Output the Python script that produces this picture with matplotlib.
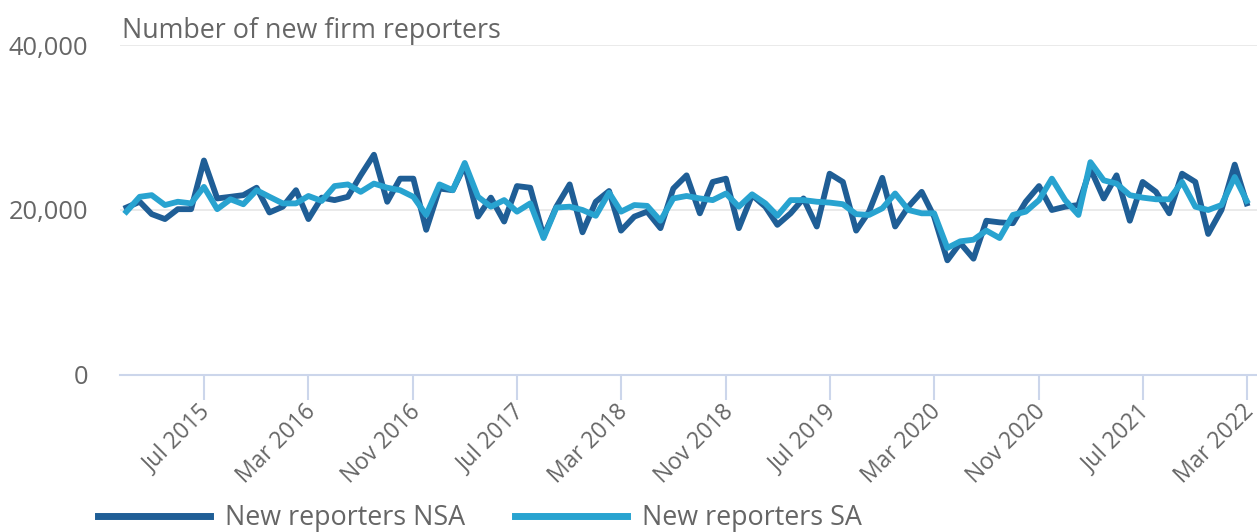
import pandas as pd
import matplotlib
matplotlib.use("Agg")
import matplotlib.pyplot as plt
import matplotlib.transforms as mtransforms

# monthly data, Jan 2015 - Mar 2022
months = pd.date_range("2015-01-01", "2022-03-01", freq="MS")

nsa = [20300, 21000, 19500, 18900, 20100, 20100, 26000, 21400, 21600, 21800,
       22700, 19700, 20400, 22400, 18900, 21500, 21200, 21600, 24200, 26700,
       21000, 23800, 23800, 17600, 22600, 22400, 25400, 19200, 21500, 18600,
       22900, 22700, 16800, 20400, 23100, 17300, 21000, 22300, 17500, 19200,
       19800, 17800, 22600, 24200, 19600, 23400, 23800, 17800, 21800, 20400,
       18200, 19600, 21400, 18000, 24400, 23400, 17500, 19800, 23900, 18000,
       20400, 22200, 19200, 13900, 16000, 14100, 18700, 18500, 18400, 21000,
       22900, 20000, 20400, 20600, 25000, 21400, 24200, 18700, 23400, 22200,
       19600, 24400, 23400, 17100, 20000, 25500, 20800]

sa = [19800, 21600, 21800, 20600, 21000, 20800, 22800, 20100, 21300, 20700,
      22400, 21600, 20800, 20800, 21700, 21100, 22900, 23100, 22200, 23200,
      22700, 22400, 21600, 19400, 23100, 22400, 25700, 21600, 20400, 21200,
      19800, 20800, 16600, 20300, 20400, 20000, 19300, 22100, 19800, 20600,
      20500, 18700, 21400, 21700, 21400, 21200, 22000, 20400, 21900, 20800,
      19300, 21200, 21200, 21000, 20900, 20700, 19500, 19400, 20200, 22000,
      20000, 19600, 19600, 15400, 16200, 16400, 17500, 16600, 19400, 19800,
      21200, 23800, 21200, 19400, 25800, 23600, 23200, 21800, 21500, 21300,
      21300, 23400, 20400, 20000, 20600, 24000, 21100]

tick_labels = ["Jul 2015", "Mar 2016", "Nov 2016", "Jul 2017", "Mar 2018", "Nov 2018",
               "Jul 2019", "Mar 2020", "Nov 2020", "Jul 2021", "Mar 2022"]
y_ticks = [0, 20000, 40000]

plt.rcParams["font.family"] = ["Open Sans", "DejaVu Sans"]
grey = "#666666"

fig = plt.figure(figsize=(12.57, 5.32), dpi=100)
ax = fig.add_axes([120 / 1257, 1 - 375 / 532, 1 - 120 / 1257, 330 / 532])

ax.plot(months, nsa, color="#1f5e96", lw=4.2, solid_joinstyle="round", label="New reporters NSA")
ax.plot(months, sa, color="#28a3d0", lw=4.2, solid_joinstyle="round", label="New reporters SA")

ax.set_ylim(0, 40000)
ax.set_xlim(months[0] - pd.Timedelta(days=15), months[-1] + pd.Timedelta(days=24))

ax.set_yticks(y_ticks)
ax.set_yticklabels([f"{v:,}" for v in y_ticks], color=grey, fontsize=18.4)
ax.tick_params(axis="y", length=0, pad=23)
for v in y_ticks[1:]:
    ax.axhline(v, color="#e6e6e6", lw=1.2, zorder=0)

tick_dates = pd.to_datetime(tick_labels, format="%b %Y")
ax.set_xticks(tick_dates)
ax.set_xticklabels(tick_labels, rotation=45, ha="right", rotation_mode="anchor",
                   color=grey, fontsize=16.5)
ax.tick_params(axis="x", length=18, width=1.5, color="#ccd6eb", pad=0)
# nudge the rotated labels a little left so the last one stays inside
shift = mtransforms.ScaledTranslation(-5 / 100, 0, fig.dpi_scale_trans)
for lbl in ax.get_xticklabels():
    lbl.set_transform(lbl.get_transform() + shift)

for s in ["top", "right", "left"]:
    ax.spines[s].set_visible(False)
ax.spines["bottom"].set_color("#ccd6eb")
ax.spines["bottom"].set_linewidth(1.5)

fig.text(122 / 1257, 1 - 38 / 532, "Number of new firm reporters", color=grey, fontsize=19.4)

fig.legend(loc="center left", bbox_to_anchor=(74 / 1257, 1 - 518 / 532), ncol=2,
           frameon=False, fontsize=19.4, handlelength=4.15, handletextpad=0.55,
           columnspacing=1.85, labelcolor=grey)
for h in fig.legends[0].legend_handles:
    h.set_linewidth(5)

fig.savefig("out.png", dpi=100)
